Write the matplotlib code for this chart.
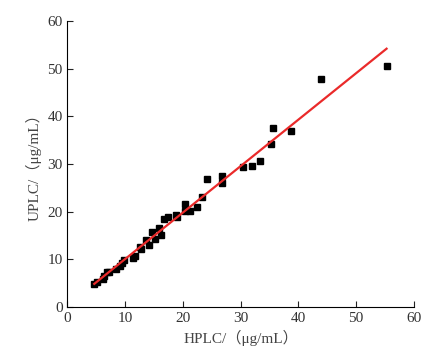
import matplotlib
matplotlib.use('Agg')
import matplotlib.pyplot as plt

# HPLC vs UPLC measurements (ug/mL)
hplc = [4.65, 5.05, 6.2, 6.4, 6.9, 7.25, 8.5, 9.1, 9.4, 9.8,
        11.3, 11.7, 12.6, 12.8, 13.6, 14.2, 14.6, 15.2, 15.9, 16.3,
        16.7, 17.5, 18.9, 19.0, 20.4, 20.4, 21.2, 22.4, 23.3, 24.2,
        26.7, 26.7, 30.5, 31.9, 33.4, 35.3, 35.6, 38.7, 43.9, 55.3]
uplc = [4.8, 5.3, 5.8, 6.4, 7.4, 7.4, 7.9, 8.5, 9.2, 9.9,
        10.3, 10.7, 12.6, 12.2, 14.0, 13.0, 15.8, 14.2, 16.5, 15.2,
        18.4, 18.8, 19.3, 18.8, 21.7, 20.1, 20.2, 20.9, 23.1, 26.8,
        27.5, 26.1, 29.4, 29.6, 30.7, 34.2, 37.6, 36.9, 47.9, 50.5]

# regression line end points
fit_x = [4.65, 55.3]
fit_y = [4.85, 54.2]

plt.rcParams['font.family'] = ['Liberation Serif', 'Noto Sans CJK SC']

fig = plt.figure(figsize=(4.35, 3.51), dpi=100)
ax = fig.add_axes([0.155, 0.1254, 0.796, 0.8146])

ax.plot(hplc, uplc, 's', color='black', markersize=4.8, zorder=2)
ax.plot(fit_x, fit_y, '-', color='#ea2a2a', linewidth=1.6, zorder=3)

ax.set_xlim(0, 60)
ax.set_ylim(0, 60)
ax.set_xticks(range(0, 61, 10))
ax.set_yticks(range(0, 61, 10))
ax.spines['top'].set_visible(False)
ax.spines['right'].set_visible(False)
ax.tick_params(direction='in', length=4, labelsize=11, colors='#222222', labelcolor='#333333')

ax.set_xlabel('HPLC/（μg/mL）', fontsize=11, color='#444444', labelpad=4)
ax.set_ylabel('UPLC/（μg/mL）', fontsize=11, color='#444444', labelpad=4)

plt.savefig('out.png', dpi=100)
